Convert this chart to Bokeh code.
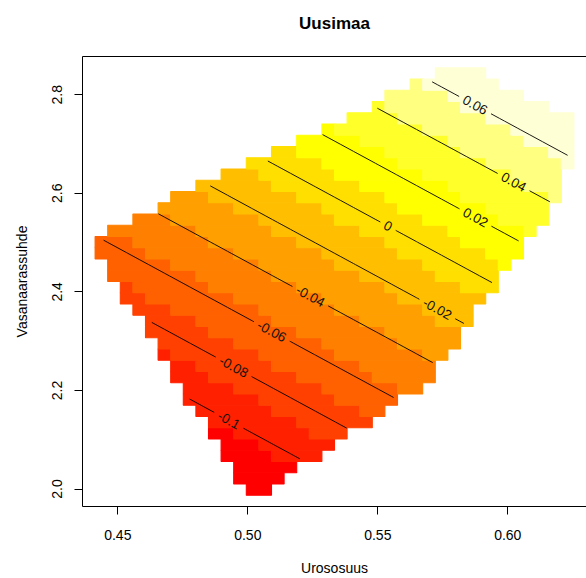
import math
import numpy as np
import contourpy
from bokeh.plotting import figure
from bokeh.models import FixedTicker, LinearAxis, Range1d, NumeralTickFormatter
from bokeh.embed import file_html
from bokeh.resources import INLINE
from bokeh.core.properties import value

# ---------------- data ----------------
title_text = "Uusimaa"
x_label = "Urososuus"
y_label = "Vasanaarassuhde"

# 40 x 40 grid of cell centres
x_first, x_last, n_x = 0.43884, 0.62785, 40
y_first, y_last, n_y = 1.9760, 2.8661, 40

# fitted surface z = b0 + bx * x + by * y
fit_coef = [-0.72374, 0.5028, 0.17575]

# covered cells: grid rows 1..38 (bottom -> top), first and last covered column
row_index = list(range(1, 39))
row_first = [13, 12, 12, 11, 11, 10, 10, 9, 8, 8, 7, 7, 6, 6, 5, 5, 4, 3, 3, 2,
             2, 1, 1, 2, 4, 6, 7, 9, 11, 13, 15, 17, 19, 21, 23, 24, 26, 28]
row_last = [14, 15, 16, 18, 19, 20, 22, 23, 24, 26, 27, 27, 28, 29, 29, 30, 30, 31, 32, 32,
            33, 34, 34, 35, 36, 36, 37, 37, 37, 38, 38, 38, 38, 38, 36, 34, 32, 31]

contour_levels = [-0.1, -0.08, -0.06, -0.04, -0.02, 0.0, 0.02, 0.04, 0.06]
contour_labels = ["-0.1", "-0.08", "-0.06", "-0.04", "-0.02", "0", "0.02", "0.04", "0.06"]
label_frac = [0.356, 0.42, 0.58, 0.554, 0.895, 0.536, 0.78, 0.79, 0.317]

heat12 = ["#FF0000", "#FF2000", "#FF4000", "#FF6000", "#FF8000", "#FF9F00",
          "#FFBF00", "#FFDF00", "#FFFF00", "#FFFF2A", "#FFFF80", "#FFFFD5"]

x_ticks = [0.45, 0.50, 0.55, 0.60]
y_ticks = [2.0, 2.2, 2.4, 2.6, 2.8]

# ---------------- build grid ----------------
xc = np.linspace(x_first, x_last, n_x)
yc = np.linspace(y_first, y_last, n_y)
dx = xc[1] - xc[0]
dy = yc[1] - yc[0]
X, Y = np.meshgrid(xc, yc)
Z = fit_coef[0] + fit_coef[1] * X + fit_coef[2] * Y
valid = np.zeros_like(Z, dtype=bool)
for j, a, b in zip(row_index, row_first, row_last):
    valid[j, a:b + 1] = True

zmin, zmax = Z[valid].min(), Z[valid].max()
breaks = np.linspace(zmin, zmax, len(heat12) + 1)
bins = np.clip(np.searchsorted(breaks, Z, side="left") - 1, 0, len(heat12) - 1)

# merge horizontal runs of one colour within a row
left, right, bottom, top, colors = [], [], [], [], []
for j in range(n_y):
    i = 0
    while i < n_x:
        if not valid[j, i]:
            i += 1
            continue
        k = bins[j, i]
        i2 = i
        while i2 + 1 < n_x and valid[j, i2 + 1] and bins[j, i2 + 1] == k:
            i2 += 1
        left.append(xc[i] - dx / 2)
        right.append(xc[i2] + dx / 2)
        bottom.append(yc[j] - dy / 2)
        top.append(yc[j] + dy / 2)
        colors.append(heat12[k])
        i = i2 + 1

x0, x1 = x_first - dx / 2, x_last + dx / 2
y0, y1 = y_first - dy / 2, y_last + dy / 2

W, H = 586, 578
BL, BR, BT, BB = 82, 0, 56, 71
fw, fh = W - BL - BR, H - BT - BB
sx = fw / (x1 - x0)
sy = fh / (y1 - y0)

FONT = "Liberation Sans"

p = figure(width=W, height=H, output_backend="svg", toolbar_location=None,
           x_range=Range1d(x0, x1), y_range=Range1d(y0, y1),
           min_border_left=BL, min_border_right=BR, min_border_top=BT, min_border_bottom=BB,
           background_fill_color="white", border_fill_color="white")
p.outline_line_color = None
p.grid.visible = False

p.quad(left=left, right=right, bottom=bottom, top=top, fill_color=colors,
       line_color=colors, line_width=1.1)

# ---------------- contours ----------------
gen = contourpy.contour_generator(xc, yc, np.ma.array(Z, mask=~valid), line_type="Separate")
LAB_FS = 13.5
def text_width(s):
    w = 0.0
    for ch in s:
        w += 0.278 if ch == "." else (0.333 if ch == "-" else 0.556)
    return w * LAB_FS

mxs, mys, tx, ty, tt, ta = [], [], [], [], [], []
for lev, lab, fr in zip(contour_levels, contour_labels, label_frac):
    lines = gen.lines(lev)
    if not lines:
        continue
    ln = max(lines, key=len)
    if ln[0, 0] > ln[-1, 0]:
        ln = ln[::-1]
    u = (ln[:, 0] - x0) * sx
    v = (ln[:, 1] - y0) * sy
    seg = np.hypot(np.diff(u), np.diff(v))
    s = np.concatenate([[0], np.cumsum(seg)])
    total = s[-1]
    sc = fr * total
    g = text_width(lab) / 2 + 5
    def at(sv):
        return np.interp(sv, s, ln[:, 0]), np.interp(sv, s, ln[:, 1])
    m1 = s < sc - g
    if m1.any():
        ex, ey = at(sc - g)
        mxs.append(list(ln[m1, 0]) + [ex]); mys.append(list(ln[m1, 1]) + [ey])
    m2 = s > sc + g
    if m2.any():
        bx, by = at(sc + g)
        mxs.append([bx] + list(ln[m2, 0])); mys.append([by] + list(ln[m2, 1]))
    cx, cy = at(sc)
    k = min(max(np.searchsorted(s, sc), 1), len(s) - 1)
    ang = math.atan2(v[k] - v[k - 1], u[k] - u[k - 1])
    tx.append(cx); ty.append(cy); tt.append(lab); ta.append(ang)

p.multi_line(xs=mxs, ys=mys, line_color="black", line_width=0.9)
p.text(x=tx, y=ty, text=tt, angle=ta, text_align="center", text_baseline="middle",
       text_font=value(FONT), text_font_size=f"{LAB_FS}px", text_color="#111111")

# ---------------- axes ----------------
for ax in (p.xaxis[0], p.yaxis[0]):
    ax.axis_line_color = "black"
    ax.axis_line_width = 1
    ax.major_tick_line_color = "black"
    ax.major_tick_in = 0
    ax.major_tick_out = 8
    ax.minor_tick_line_color = None
    ax.major_label_text_font = FONT
    ax.major_label_text_font_size = "14px"
    ax.major_label_text_color = "black"
    ax.axis_label_text_font = FONT
    ax.axis_label_text_font_size = "14px"
    ax.axis_label_text_font_style = "normal"
    ax.axis_label_text_color = "black"

p.xaxis.ticker = FixedTicker(ticks=x_ticks)
p.xaxis.formatter = NumeralTickFormatter(format="0.00")
p.xaxis.axis_label = x_label
p.xaxis.major_label_standoff = 15
p.xaxis.axis_label_standoff = 17

p.yaxis.ticker = FixedTicker(ticks=y_ticks)
p.yaxis.formatter = NumeralTickFormatter(format="0.0")
p.yaxis.axis_label = y_label
p.yaxis.major_label_orientation = "vertical"
p.yaxis.major_label_standoff = 12
p.yaxis.axis_label_standoff = 20

top_ax = LinearAxis(ticker=FixedTicker(ticks=[]), axis_line_color="black",
                    major_tick_line_color=None, minor_tick_line_color=None,
                    major_tick_out=0, major_tick_in=0, major_label_text_font_size="0px")
p.add_layout(top_ax, "above")

# a trailing empty line lifts the title towards the top of the page
p.title.text = title_text + "\n "
p.title.align = "center"
p.title.text_font = FONT
p.title.text_font_size = "17px"
p.title.text_font_style = "bold"
p.title.text_color = "black"
p.title.standoff = 10

open("out.html", "w").write(file_html(p, INLINE))
